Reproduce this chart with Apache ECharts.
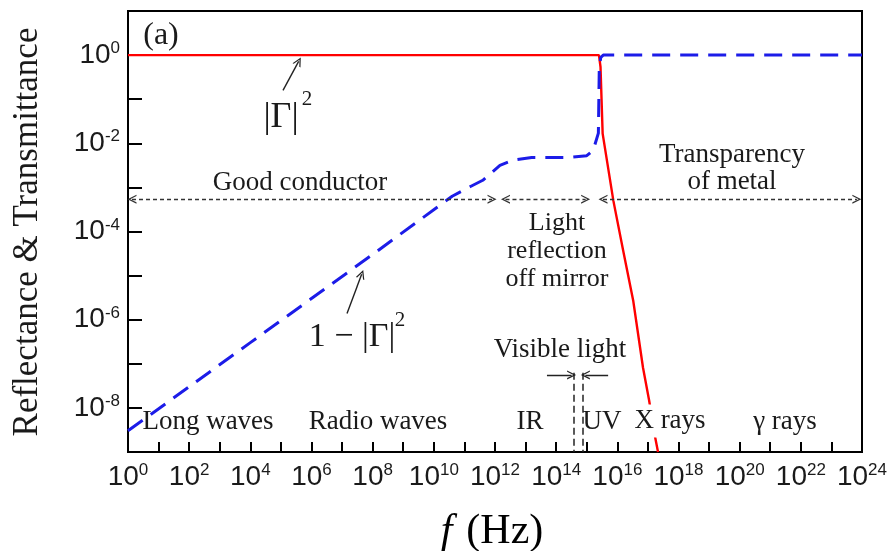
<!DOCTYPE html>
<html>
<head>
<meta charset="utf-8">
<script src="https://cdn.jsdelivr.net/npm/echarts@6/dist/echarts.min.js"></script>
<style>
  html, body { margin: 0; padding: 0; background: #fff; }
  #chart { width: 888px; height: 551px; }
</style>
</head>
<body>
<div id="chart"></div>
<script>
// Reflectance |Γ|² of a metal versus frequency (Hz)
const reflFreq  = [1, 2.51e15, 2.82e15, 3.31e15, 7.41e15, 1.55e16, 3.31e16, 6.92e16, 1.10e17, 1.62e17, 2.14e17];
const reflValue = [1, 1, 0.537, 0.0166, 5.01e-4, 3.72e-5, 2.69e-6, 8.13e-8, 1.45e-8, 2.69e-9, 1e-9];

// Transmittance 1 − |Γ|²
const transFreq  = [1, 1e4, 1e8, 3.98e10, 1.58e11, 3.98e11, 1.45e12, 3.98e12, 1.58e13, 2.82e14, 1e15, 1.62e15, 2.40e15, 2.57e15, 2.88e15, 3.47e15, 1e24];
const transValue = [3.02e-9, 3.02e-7, 3.02e-5, 6.31e-4, 1.05e-3, 1.45e-3, 3.16e-3, 4.17e-3, 4.79e-3, 4.79e-3, 5.25e-3, 6.92e-3, 0.0170, 0.537, 0.891, 1, 1];

// Axis ticks (one per decade) and labelled decades
const xTickValues  = [1e1, 1e2, 1e3, 1e4, 1e5, 1e6, 1e7, 1e8, 1e9, 1e10, 1e11, 1e12, 1e13, 1e14, 1e15, 1e16, 1e17, 1e18, 1e19, 1e20, 1e21, 1e22, 1e23];
const xLabelValues = [1, 1e2, 1e4, 1e6, 1e8, 1e10, 1e12, 1e14, 1e16, 1e18, 1e20, 1e22, 1e24];
const yTickValues  = [1e-8, 1e-7, 1e-6, 1e-5, 1e-4, 1e-3, 1e-2, 1e-1, 1];
const yLabelValues = [1e-8, 1e-6, 1e-4, 1e-2, 1];

// Frequency regimes marked with double-headed arrows
const bandStart = [1.35, 2.2e12, 3.4e15];
const bandEnd   = [8.0e11, 9.2e14, 6.8e23];
const bandLevel = 5.4e-4;

// Visible light window
const visibleEdges  = [3.8e14, 7.6e14];
const visibleTop    = 6.3e-8;
const visibleArrowY = 5.6e-8;
const visibleArrowFrom = [5.0e13, 5.0e15];
const visibleArrowTo   = [3.2e14, 9.0e14];

// Pointers from the curve labels to the curves: [fromF, fromY, toF, toY]
const pointerGamma = [1.17e5, 0.158, 3.8e5, 0.72];
const pointerTrans = [1.45e7, 1.38e-6, 4.37e7, 1.07e-5];

const serif = "'Liberation Serif', 'Times New Roman', serif";
const sans = "'Liberation Sans', Arial, sans-serif";
const ink = '#1a1a1a';
const chevron = 'path://M5,0 L10,10 L8.5,10 L5,3 L1.5,10 L0,10 Z';

function zip(a, b) { return a.map((v, i) => [v, b[i]]); }

function powLabel(v) {
  const e = Math.round(Math.log10(v));
  return '{b|10}{s|' + e + '}';
}
const powRich = {
  b: { fontFamily: sans, fontSize: 28, color: ink, lineHeight: 30 },
  s: { fontFamily: sans, fontSize: 17, color: ink, verticalAlign: 'top', lineHeight: 17 }
};

const chart = echarts.init(document.getElementById('chart'), null, { renderer: 'canvas' });

function text(t, x, y, size, extra) {
  return {
    type: 'text', x: x, y: y, z: 100,
    style: Object.assign({
      text: t, x: 0, y: 0, fill: ink,
      font: size + 'px ' + serif,
      align: 'center', verticalAlign: 'middle',
      textAlign: 'center', textVerticalAlign: 'middle'
    }, extra || {})
  };
}

chart.setOption({
  animation: false,
  backgroundColor: '#fff',
  grid: {
    left: 128, right: 26, top: 11, bottom: 99,
    containLabel: false, outerBoundsMode: 'none',
    show: true, borderColor: '#000', borderWidth: 2, backgroundColor: 'transparent'
  },
  xAxis: {
    type: 'log', logBase: 10, min: 1, max: 1.0001e24,
    axisLine: { show: true, lineStyle: { color: '#000', width: 2 } },
    axisTick: { show: true, inside: true, length: 10, lineStyle: { color: '#000', width: 2 }, customValues: xTickValues },
    axisLabel: {
      show: true, margin: 10, fontSize: 28, fontFamily: sans, color: ink,
      formatter: powLabel, rich: powRich, customValues: xLabelValues
    },
    splitLine: { show: false },
    minorTick: { show: false }
  },
  yAxis: {
    type: 'log', logBase: 10, min: 1e-9, max: 10,
    axisLine: { show: true, lineStyle: { color: '#000', width: 2 } },
    axisTick: { show: true, inside: true, length: 14, lineStyle: { color: '#000', width: 2 }, customValues: yTickValues },
    axisLabel: {
      show: true, margin: 8, fontSize: 28, fontFamily: sans, color: ink,
      formatter: powLabel, rich: powRich, customValues: yLabelValues
    },
    splitLine: { show: false },
    minorTick: { show: false }
  },
  series: [
    {
      name: '|Γ|²', type: 'line', data: zip(reflFreq, reflValue),
      showSymbol: false, symbol: 'none', z: 3,
      lineStyle: { color: '#ff0000', width: 2.4 }
    },
    {
      name: '1 − |Γ|²', type: 'line', data: zip(transFreq, transValue),
      showSymbol: false, symbol: 'none', z: 4,
      lineStyle: { color: '#1c1ce8', width: 3, type: [18, 10] }
    },
    {
      // regime arrows
      type: 'lines', coordinateSystem: 'cartesian2d', z: 5, silent: true,
      symbol: [chevron, chevron], symbolSize: 9,
      lineStyle: { color: '#333', width: 1.3, type: [4, 3], opacity: 1 },
      data: bandStart.map((s, i) => ({ coords: [[s, bandLevel], [bandEnd[i], bandLevel]] }))
    },
    {
      // visible light boundaries
      type: 'lines', coordinateSystem: 'cartesian2d', z: 5, silent: true,
      symbol: ['none', 'none'],
      lineStyle: { color: '#222', width: 1.5, type: [7, 4], opacity: 1 },
      data: visibleEdges.map(f => ({ coords: [[f, visibleTop], [f, 1e-9]] }))
    },
    {
      // solid pointer arrows
      type: 'lines', coordinateSystem: 'cartesian2d', z: 5, silent: true,
      symbol: ['none', chevron], symbolSize: 9,
      lineStyle: { color: '#222', width: 1.4, type: 'solid', opacity: 1 },
      data: [
        { coords: [[visibleArrowFrom[0], visibleArrowY], [visibleArrowTo[0], visibleArrowY]] },
        { coords: [[visibleArrowFrom[1], visibleArrowY], [visibleArrowTo[1], visibleArrowY]] },
        { coords: [[pointerGamma[0], pointerGamma[1]], [pointerGamma[2], pointerGamma[3]]] },
        { coords: [[pointerTrans[0], pointerTrans[1]], [pointerTrans[2], pointerTrans[3]]] }
      ]
    }
  ],
  graphic: [
    text('(a)', 161, 36, 32),
    text('Good conductor', 300, 183, 27),
    text('Transparency\nof metal', 732, 168, 27, { lineHeight: 27 }),
    text('Light\nreflection\noff mirror', 557, 251, 26, { lineHeight: 28 }),
    text('Visible light', 560, 350, 27),
    text('Long waves', 208, 422, 27),
    text('Radio waves', 378, 422, 27),
    text('IR', 530, 422, 27),
    text('UV', 602, 422, 27),
    text('X rays', 670, 421, 27, { backgroundColor: '#fff', padding: [3, 2, 3, 2] }),
    text('γ rays', 785, 422, 27),
    text('|Γ|', 281, 118, 36),
    text('2', 307, 99, 21),
    text('1 − |Γ|', 352, 337, 34),
    text('2', 400, 320, 21),
    {
      type: 'text', x: 28, y: 232, rotation: Math.PI / 2, z: 100,
      style: {
        text: 'Reflectance & Transmittance', x: 0, y: 0, fill: ink,
        font: '35px ' + serif, align: 'center', verticalAlign: 'middle',
        textAlign: 'center', textVerticalAlign: 'middle'
      }
    },
    {
      type: 'text', x: 492, y: 532, z: 100,
      style: {
        text: '{i|f}{n|(Hz)}', x: 0, y: 0,
        align: 'center', verticalAlign: 'middle',
        textAlign: 'center', textVerticalAlign: 'middle',
        rich: {
          i: { fontFamily: serif, fontSize: 42, fontStyle: 'italic', color: ink, padding: [0, 14, 0, 0] },
          n: { fontFamily: serif, fontSize: 42, color: ink }
        }
      }
    }
  ]
});
</script>
</body>
</html>
